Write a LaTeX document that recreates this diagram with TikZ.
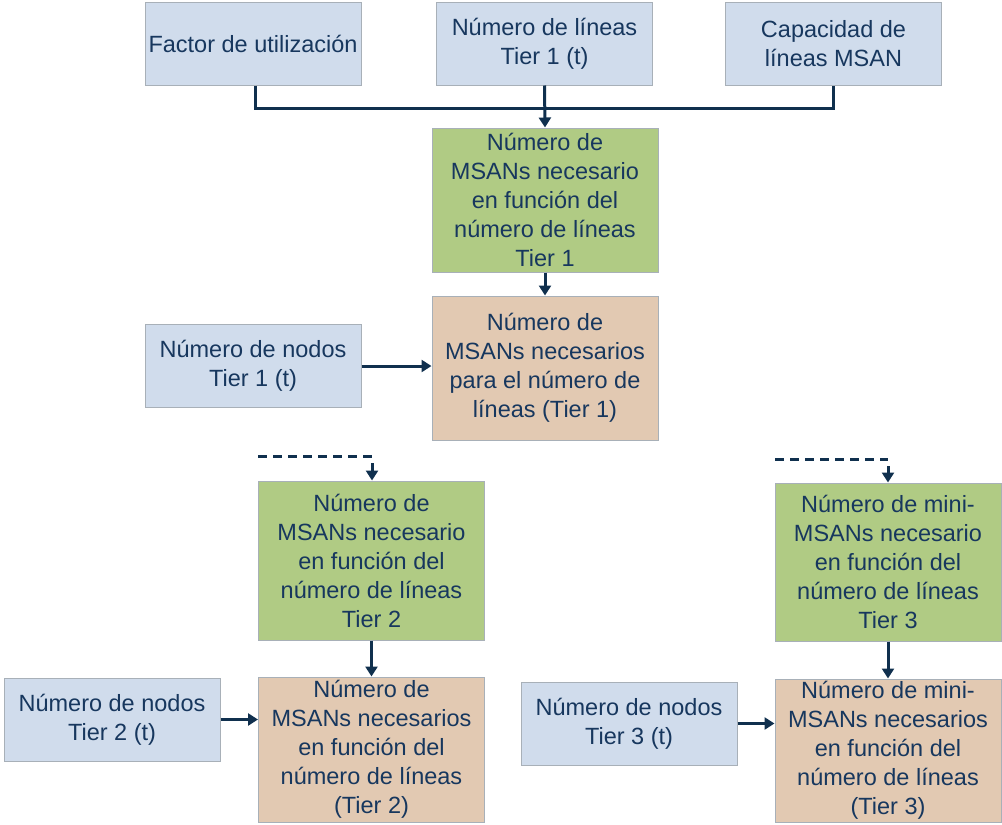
\documentclass[tikz,border=0pt]{standalone}
\usepackage{fontspec}
\setmainfont{Liberation Sans}
\usetikzlibrary{arrows.meta}
\definecolor{bluebox}{HTML}{D0DCEC}
\definecolor{greenbox}{HTML}{B0CB84}
\definecolor{tanbox}{HTML}{E2C9B2}
\definecolor{boxline}{HTML}{A8B0B8}
\definecolor{txt}{HTML}{17375E}
\definecolor{arr}{HTML}{10304E}
\begin{document}
\begin{tikzpicture}[x=1pt,y=-1pt,
  box/.style={draw=boxline,line width=1pt,align=center,text=txt,inner sep=0pt,
    font=\fontsize{23.5}{29}\selectfont},
  bluestyle/.style={box,fill=bluebox,minimum width=216pt,minimum height=83pt},
  greenstyle/.style={box,fill=greenbox,minimum width=226pt},
  tanstyle/.style={box,fill=tanbox,minimum width=226pt},
  conn/.style={draw=arr,line width=3pt},
  arrowconn/.style={conn,-{Triangle[width=12pt,length=10pt]}},
  dashconn/.style={draw=arr,line width=3pt,dash pattern=on 9pt off 6pt}]
\useasboundingbox (0,0) rectangle (1002,825);
% top row
\node[bluestyle] (F) at (253,43.5) {Factor de utilización};
\node[bluestyle] (L1) at (544.5,43.5) {Número de líneas\\Tier 1 (t)};
\node[bluestyle] (C) at (833.5,43.5) {Capacidad de\\líneas MSAN};
% tier 1
\node[greenstyle,minimum height=144pt] (G1) at (545,200) {Número de\\MSANs necesario\\en función del\\número de líneas\\Tier 1};
\node[tanstyle,minimum height=144pt] (T1) at (545,368) {Número de\\MSANs necesarios\\para el número de\\líneas (Tier 1)};
\node[bluestyle] (N1) at (253,366) {Número de nodos\\Tier 1 (t)};
% tier 2
\node[greenstyle,minimum height=159pt] (G2) at (371.5,560.5) {Número de\\MSANs necesario\\en función del\\número de líneas\\Tier 2};
\node[tanstyle,minimum height=145pt] (T2) at (371.5,749.5) {Número de\\MSANs necesarios\\en función del\\número de líneas\\(Tier 2)};
\node[bluestyle] (N2) at (112,719.5) {Número de nodos\\Tier 2 (t)};
% tier 3
\node[greenstyle,minimum height=158pt] (G3) at (888,562) {Número de mini-\\MSANs necesario\\en función del\\número de líneas\\Tier 3};
\node[tanstyle,minimum height=143pt] (T3) at (888,750.5) {Número de mini-\\MSANs necesarios\\en función del\\número de líneas\\(Tier 3)};
\node[bluestyle] (N3) at (629,723.5) {Número de nodos\\Tier 3 (t)};
% connectors top
\coordinate (J) at (544.5,108);
\draw[conn] (F.south -| 255,0) |- (J) -| (C.south);
\draw[arrowconn] (L1.south) -- (G1.north);
\draw[arrowconn] (G1.south) -- (T1.north);
\draw[arrowconn] (N1.east) -- (T1.west |- N1.east);
% tier 2 connectors
\coordinate (D2a) at (258,456);
\coordinate (D2b) at (372,456);
\coordinate (D2c) at (372,463);
\draw[dashconn] (D2a) -- (D2b);
\draw[arrowconn] (D2c) -- (D2c |- G2.north);
\draw[arrowconn] (G2.south) -- (T2.north);
\draw[arrowconn] (N2.east) -- (T2.west |- N2.east);
% tier 3 connectors
\coordinate (D3a) at (775,459);
\coordinate (D3b) at (888,459);
\coordinate (D3c) at (888,466);
\draw[dashconn] (D3a) -- (D3b);
\draw[arrowconn] (D3c) -- (D3c |- G3.north);
\draw[arrowconn] (G3.south) -- (T3.north);
\draw[arrowconn] (N3.east) -- (T3.west |- N3.east);
\end{tikzpicture}
\end{document}
